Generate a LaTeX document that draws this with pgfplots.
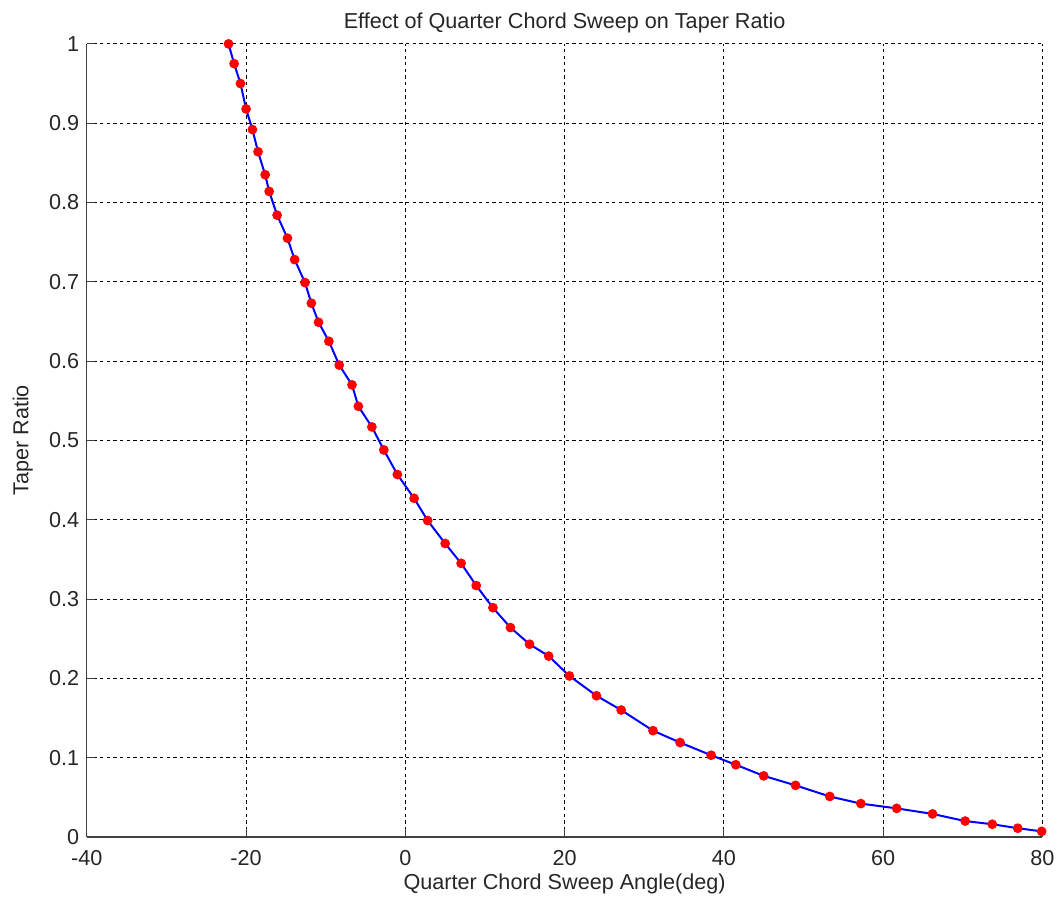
\documentclass[border=0pt]{standalone}
\usepackage{fontspec}
\setmainfont{Liberation Sans}
\usepackage{pgfplots}
\pgfplotsset{compat=1.18}

\begin{document}
\begin{tikzpicture}
\begin{axis}[
  scale only axis,
  width=574.8pt, height=477pt,
  xmin=-40, xmax=80, ymin=0, ymax=1,
  xtick={-40,-20,0,20,40,60,80},
  ytick={0,0.1,0.2,0.3,0.4,0.5,0.6,0.7,0.8,0.9,1},
  axis x line*=bottom, axis y line*=left,
  axis line style={draw=black!75, line width=0.7pt, -},
  tick align=inside, major tick length=5pt,
  tick style={black!75, line width=0.6pt},
  grid=major,
  major grid style={draw=black, line width=0.5pt, dash pattern=on 2pt off 2pt},
  /pgf/number format/assume math mode=true,
  ticklabel style={font=\fontsize{13}{15}\selectfont, text=black!85},
  xticklabel style={yshift=-4.5pt},
  yticklabel style={xshift=-1pt},
  title={Effect of Quarter Chord Sweep on Taper Ratio},
  title style={font=\fontsize{13}{15}\selectfont, text=black!85, yshift=-3pt},
  xlabel={Quarter Chord Sweep Angle(deg)},
  ylabel={Taper Ratio},
  label style={font=\fontsize{13}{15}\selectfont, text=black!85},
  xlabel style={yshift=2pt},
  ylabel style={yshift=3pt},
  clip=false,
]
\addplot[blue, line width=1.2pt, mark=*, mark size=2.3pt,
  mark options={draw=red, fill=red}] coordinates {
 (-22.2,1.000) (-21.5,0.975) (-20.7,0.950) (-20.0,0.918) (-19.2,0.892)
 (-18.5,0.864) (-17.6,0.835) (-17.1,0.814) (-16.1,0.784) (-14.8,0.755)
 (-13.9,0.728) (-12.6,0.699) (-11.8,0.673) (-10.9,0.649) (-9.6,0.625)
 (-8.3,0.595) (-6.7,0.570) (-5.9,0.543) (-4.2,0.517) (-2.7,0.488)
 (-1.0,0.457) (1.1,0.427) (2.8,0.399) (5.0,0.370) (7.0,0.345)
 (8.9,0.317) (11.0,0.289) (13.2,0.264) (15.6,0.243) (18.0,0.228)
 (20.6,0.203) (24.0,0.178) (27.1,0.160) (31.1,0.134) (34.5,0.119)
 (38.4,0.103) (41.5,0.091) (45.0,0.077) (49.0,0.065) (53.3,0.051)
 (57.2,0.042) (61.7,0.036) (66.2,0.029) (70.3,0.020) (73.7,0.016)
 (76.9,0.011) (79.9,0.007)
};
\end{axis}
\path[use as bounding box] ([xshift=-52.2pt,yshift=-39pt]current axis.south west)
  rectangle ([xshift=9pt,yshift=26.4pt]current axis.north east);
\end{tikzpicture}
\end{document}
